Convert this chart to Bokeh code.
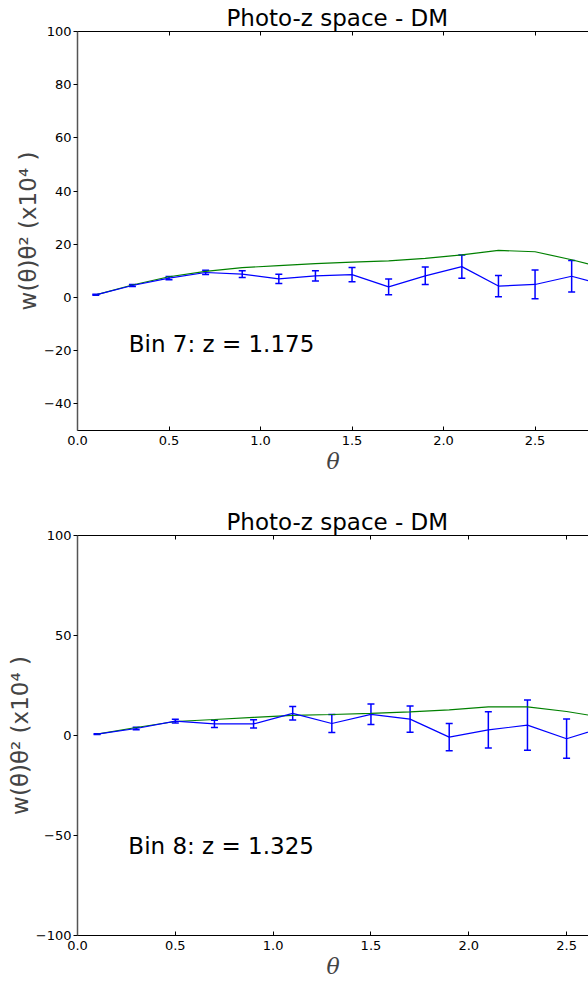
from bokeh.plotting import figure
from bokeh.layouts import column
from bokeh.models import (LinearAxis, FixedTicker, Whisker, TeeHead,
                          ColumnDataSource, Label, Range1d,
                          CustomJSTickFormatter, CustomLabelingPolicy)
from bokeh.embed import file_html
from bokeh.resources import INLINE

# ---- data ----
title_text = "Photo-z space - DM"
ylabel = "w(θ)θ² (x10⁴ )"
xlabel = "θ"

theta7 = [0.1, 0.3, 0.5, 0.7, 0.9, 1.1, 1.3, 1.5, 1.7, 1.9, 2.1, 2.3, 2.5, 2.7, 2.9]
w7_data = [1.0, 4.5, 7.3, 9.4, 8.8, 7.0, 8.15, 8.6, 4.0, 8.15, 11.6, 4.3, 4.9, 8.0, 4.2]
w7_err = [0.2, 0.4, 0.6, 0.8, 1.3, 1.7, 1.9, 2.7, 3.0, 3.3, 4.4, 4.0, 5.4, 5.9, 6.5]
w7_model = [1.0, 4.7, 7.8, 9.8, 11.2, 12.0, 12.7, 13.3, 13.8, 14.7, 16.0, 17.7, 17.2, 14.2, 10.7]
label7 = "Bin 7: z = 1.175"
yticks7 = [-40, -20, 0, 20, 40, 60, 80, 100]

theta8 = [0.1, 0.3, 0.5, 0.7, 0.9, 1.1, 1.3, 1.5, 1.7, 1.9, 2.1, 2.3, 2.5, 2.7]
w8_data = [0.7, 3.5, 7.2, 5.8, 5.8, 11.1, 6.0, 10.6, 8.2, -0.8, 2.8, 5.2, -1.6, 4.3]
w8_err = [0.2, 0.6, 0.9, 1.8, 2.1, 3.4, 4.5, 5.1, 6.6, 6.8, 9.1, 12.6, 9.8, 10.5]
w8_model = [0.7, 4.0, 7.0, 8.0, 9.1, 10.1, 10.5, 11.1, 11.8, 12.8, 14.3, 14.3, 12.0, 8.8]
label8 = "Bin 8: z = 1.325"
yticks8 = [-100, -50, 0, 50, 100]

xticks = [0.0, 0.5, 1.0, 1.5, 2.0, 2.5, 3.0, 3.5]

BLUE = "#0000ff"
GREEN = "#008000"
FONT = "DejaVu Sans"

XFMT = CustomJSTickFormatter(code="""
    const s = tick.toFixed(1);
    return s.replace('-', '\u2212');
""")
YFMT = CustomJSTickFormatter(code="""
    const s = Math.round(tick).toString();
    return s.replace('-', '\u2212');
""")


def panel(theta, data, err, model, label, yticks, yr, xmax, height,
          btop, bbot, lab_x, lab_y):
    p = figure(width=588, height=height, x_range=Range1d(0, xmax),
               y_range=Range1d(*yr), output_backend="svg",
               toolbar_location=None, min_border_left=77,
               min_border_right=0, min_border_top=btop,
               min_border_bottom=bbot, x_axis_label=xlabel,
               y_axis_label=ylabel)
    p.outline_line_color = None
    p.grid.visible = False
    p.background_fill_color = "white"
    p.border_fill_color = "white"

    p.title.text = title_text
    p.title.align = "left"
    p.title.offset = 149
    p.title.text_font = FONT
    p.title.text_font_size = "23px"
    p.title.text_font_style = "normal"
    p.title.text_color = "black"
    p.title.standoff = 2

    xa = p.xaxis[0]
    xa.ticker = FixedTicker(ticks=xticks)
    xa.formatter = XFMT
    xa.major_tick_in = 4
    xa.major_tick_out = 0
    xa.minor_tick_line_color = None
    xa.major_label_text_font = FONT
    xa.major_label_text_font_size = "13px"
    xa.major_label_text_color = "black"
    xa.major_label_standoff = 5
    xa.axis_label_text_font = "DejaVu Serif"
    xa.axis_label_text_font_style = "italic"
    xa.axis_label_text_font_size = "22px"
    xa.axis_label_standoff = 1
    xa.axis_line_color = "black"
    xa.major_tick_line_color = "black"

    ya = p.yaxis[0]
    ya.ticker = FixedTicker(ticks=yticks)
    ya.formatter = YFMT
    ya.major_tick_in = 0
    ya.major_tick_out = 4
    ya.minor_tick_line_color = None
    ya.major_label_text_font = FONT
    ya.major_label_text_font_size = "13px"
    ya.major_label_text_color = "black"
    ya.major_label_standoff = 2
    ya.axis_label_text_font = FONT
    ya.axis_label_text_font_size = "23px"
    ya.axis_label_text_font_style = "normal"
    ya.axis_label_standoff = 0
    ya.axis_line_color = "#555555"
    ya.axis_line_width = 1.5

    top = LinearAxis(ticker=FixedTicker(ticks=xticks),
                     major_label_policy=CustomLabelingPolicy(code="""
                         for (let i = 0; i < indices.size; i++) indices.unset(i);
                         return indices;
                     """),
                     major_label_text_font_size="0px",
                     major_tick_in=4, major_tick_out=0,
                     major_label_standoff=0,
                     minor_tick_line_color=None,
                     axis_line_color="black")
    p.add_layout(top, "above")

    src = ColumnDataSource(dict(x=theta, y=data,
                                lo=[d - e for d, e in zip(data, err)],
                                hi=[d + e for d, e in zip(data, err)],
                                m=model))
    p.line("x", "m", source=src, line_color=GREEN, line_width=1.2)
    p.line("x", "y", source=src, line_color=BLUE, line_width=1.2)
    p.add_layout(Whisker(source=src, base="x", lower="lo", upper="hi",
                         line_color=BLUE, line_width=1.5,
                         upper_head=TeeHead(size=7, line_color=BLUE, line_width=1.5),
                         lower_head=TeeHead(size=7, line_color=BLUE, line_width=1.5)))
    p.add_layout(Label(x=lab_x, y=lab_y, text=label, text_font=FONT,
                       text_font_size="23px", text_color="black",
                       text_baseline="middle", text_align="left"))
    return p


p1 = panel(theta7, w7_data, w7_err, w7_model, label7, yticks7, (-50, 100),
           2.792, 490, 31, 60, 0.28, -17.4)
p2 = panel(theta8, w8_data, w8_err, w8_model, label8, yticks8, (-100, 100),
           2.612, 491, 45, 44, 0.26, -55.4)

layout = column(p1, p2, spacing=0)
open("out.html", "w").write(file_html(layout, INLINE))
